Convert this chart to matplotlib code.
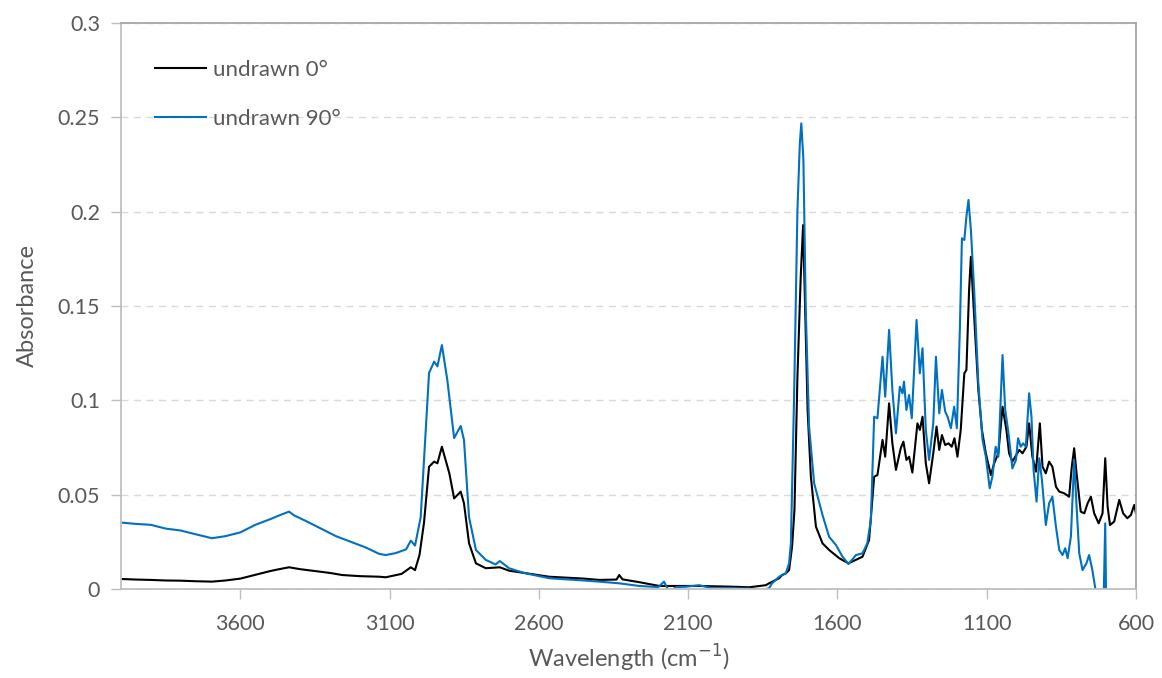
import matplotlib
matplotlib.use('Agg')
import matplotlib.pyplot as plt
import numpy as np

# wavenumber (cm-1) and absorbance
wn_0 = [4000, 3950, 3900, 3850, 3800, 3750, 3695, 3650, 3600, 3550, 3500, 3470, 3437, 3400,
        3350, 3300, 3259, 3200, 3135, 3113, 3060, 3029, 3015, 3000, 2985, 2968, 2951, 2940,
        2925, 2900, 2884, 2862, 2851, 2834, 2811, 2778, 2731, 2700, 2650, 2566, 2450, 2398,
        2340, 2331, 2320, 2260, 2197, 2100, 2063, 1950, 1896, 1840, 1829, 1795, 1785, 1773,
        1762, 1752, 1744, 1734, 1723, 1715, 1708, 1700, 1689, 1672, 1650, 1628, 1594, 1563,
        1527, 1516, 1494, 1477, 1466, 1449, 1440, 1427, 1416, 1404, 1388, 1379, 1369, 1360,
        1349, 1332, 1324, 1315, 1304, 1293, 1279, 1268, 1259, 1250, 1239, 1228, 1217, 1208,
        1198, 1187, 1175, 1168, 1159, 1153, 1142, 1128, 1116, 1103, 1086, 1075, 1061, 1047,
        1034, 1025, 1014, 991, 980, 967, 958, 947, 935, 922, 913, 902, 891, 880, 868, 857,
        840, 824, 815, 807, 799, 785, 773, 762, 751, 740, 725, 712, 703, 695, 687, 673, 656,
        643, 629, 617, 606, 600]
abs_0 = [0.0053, 0.0050, 0.0048, 0.0045, 0.0044, 0.0041, 0.0039, 0.0045, 0.0055, 0.0075,
         0.0095, 0.0105, 0.0115, 0.0105, 0.0095, 0.0085, 0.0074, 0.0068, 0.0065, 0.0062,
         0.0080, 0.0115, 0.0100, 0.0180, 0.0350, 0.0648, 0.0675, 0.0666, 0.0754, 0.0613,
         0.0480, 0.0516, 0.0454, 0.0242, 0.0136, 0.0110, 0.0115, 0.0097, 0.0085, 0.0065,
         0.0055, 0.0048, 0.0050, 0.0074, 0.0051, 0.0035, 0.0016, 0.0016, 0.0016, 0.0012,
         0.0009, 0.0020, 0.0030, 0.0057, 0.0074, 0.0083, 0.0100, 0.0224, 0.0419, 0.1125,
         0.1655, 0.1929, 0.1479, 0.0949, 0.0595, 0.0330, 0.0242, 0.0207, 0.0163, 0.0136,
         0.0163, 0.0171, 0.0260, 0.0595, 0.0604, 0.0790, 0.0701, 0.0984, 0.0772, 0.0631,
         0.0746, 0.0781, 0.0684, 0.0701, 0.0617, 0.0878, 0.0843, 0.0913, 0.0666, 0.0560,
         0.0719, 0.0861, 0.0737, 0.0816, 0.0763, 0.0772, 0.0754, 0.0799, 0.0701, 0.0843,
         0.1143, 0.1161, 0.1585, 0.1761, 0.1443, 0.1055, 0.0843, 0.0719, 0.0604, 0.0666,
         0.0719, 0.0966, 0.0843, 0.0719, 0.0675, 0.0737, 0.0719, 0.0754, 0.0878, 0.0701,
         0.0622, 0.0878, 0.0648, 0.0613, 0.0675, 0.0648, 0.0542, 0.0516, 0.0507, 0.0489,
         0.0648, 0.0746, 0.0613, 0.0410, 0.0401, 0.0454, 0.0489, 0.0401, 0.0348, 0.0401,
         0.0693, 0.0437, 0.0339, 0.0357, 0.0472, 0.0401, 0.0375, 0.0392, 0.0445, 0.0401]

wn_90 = [4000, 3950, 3900, 3850, 3800, 3750, 3695, 3650, 3600, 3550, 3500, 3470, 3437, 3420,
         3380, 3330, 3280, 3230, 3180, 3135, 3113, 3080, 3045, 3029, 3015, 2996, 2968, 2951,
         2940, 2925, 2907, 2884, 2862, 2851, 2834, 2811, 2778, 2745, 2731, 2700, 2650, 2566,
         2450, 2398, 2331, 2264, 2200, 2181, 2164, 2140, 2108, 2063, 2020, 1953, 1900, 1852,
         1829, 1819, 1795, 1785, 1773, 1762, 1756, 1745, 1734, 1726, 1721, 1714, 1706, 1695,
         1678, 1650, 1628, 1605, 1583, 1563, 1538, 1516, 1500, 1488, 1477, 1466, 1449, 1440,
         1427, 1416, 1404, 1391, 1382, 1377, 1369, 1360, 1351, 1335, 1324, 1315, 1304, 1293,
         1279, 1270, 1259, 1250, 1239, 1231, 1220, 1209, 1200, 1190, 1183, 1175, 1168, 1161,
         1153, 1142, 1128, 1114, 1103, 1090, 1081, 1070, 1061, 1047, 1038, 1027, 1014, 1002,
         995, 986, 978, 969, 958, 950, 943, 933, 924, 915, 902, 891, 880, 868, 857, 846, 837,
         829, 818, 807, 799, 790, 779, 766, 757, 746, 734, 720, 708, 703, 700, 690, 600]
abs_90 = [0.0352, 0.0345, 0.0340, 0.0320, 0.0310, 0.0290, 0.0269, 0.0280, 0.0300, 0.0340,
          0.0370, 0.0390, 0.0410, 0.0390, 0.0360, 0.0320, 0.0280, 0.0250, 0.0220, 0.0186,
          0.0180, 0.0190, 0.0210, 0.0256, 0.0230, 0.0380, 0.1145, 0.1205, 0.1180, 0.1293,
          0.1110, 0.0800, 0.0864, 0.0790, 0.0380, 0.0207, 0.0154, 0.0130, 0.0148, 0.0110,
          0.0085, 0.0057, 0.0045, 0.0039, 0.0030, 0.0016, 0.0010, 0.0039, -0.0014, 0.0010,
          0.0012, 0.0020, 0.0004, 0.0004, 0.0002, -0.0005, 0.0004, 0.0030, 0.0065, 0.0074,
          0.0083, 0.0136, 0.0240, 0.1037, 0.2009, 0.2362, 0.2468, 0.2274, 0.1479, 0.0860,
          0.0560, 0.0392, 0.0277, 0.0233, 0.0171, 0.0132, 0.0180, 0.0189, 0.0242, 0.0366,
          0.0913, 0.0905, 0.1231, 0.1019, 0.1373, 0.1055, 0.0825, 0.1072, 0.1037, 0.1099,
          0.0949, 0.1028, 0.0905, 0.1426, 0.1143, 0.1276, 0.0843, 0.0684, 0.0878, 0.1231,
          0.0931, 0.1055, 0.0940, 0.0913, 0.0852, 0.0966, 0.0852, 0.1373, 0.1859, 0.1850,
          0.1973, 0.2062, 0.1903, 0.1585, 0.1090, 0.0790, 0.0701, 0.0534, 0.0595, 0.0754,
          0.0701, 0.1240, 0.0949, 0.0825, 0.0639, 0.0684, 0.0799, 0.0754, 0.0772, 0.0754,
          0.1037, 0.0913, 0.0631, 0.0463, 0.0693, 0.0578, 0.0339, 0.0454, 0.0489, 0.0330,
          0.0207, 0.0180, 0.0216, 0.0163, 0.0277, 0.0684, 0.0437, 0.0189, 0.0100, 0.0136,
          0.0180, 0.0100, -0.0020, -0.0100, -0.0030, 0.0348, -0.0050, -0.0200, -0.0300]

x_ticks = [3600, 3100, 2600, 2100, 1600, 1100, 600]
y_ticks = [0, 0.05, 0.1, 0.15, 0.2, 0.25, 0.3]
y_labels = ['0', '0.05', '0.1', '0.15', '0.2', '0.25', '0.3']

plt.rcParams['font.family'] = ['Lato', 'DejaVu Sans']
grey = '#595959'

fig = plt.figure(figsize=(11.62, 6.78), dpi=100)
ax = fig.add_axes([0.1041, 0.1313, 0.8735, 0.8348])

ax.plot(wn_0, abs_0, color='black', lw=1.5, label='undrawn 0°')
ax.plot(wn_90, abs_90, color='#0070C0', lw=1.5, label='undrawn 90°')

ax.set_xlim(4000, 600)
ax.set_ylim(0, 0.3)
ax.set_xticks(x_ticks)
ax.set_yticks(y_ticks)
ax.set_yticklabels(y_labels)
ax.tick_params(colors='#bfbfbf', labelcolor=grey, labelsize=15.5, length=7, width=1)
ax.tick_params(axis='y', pad=8)
ax.tick_params(axis='x', pad=11)
ax.grid(axis='y', color='#d9d9d9', linestyle=(0, (5, 4)), lw=1)
ax.set_axisbelow(True)
for s in ['left', 'bottom']:
    ax.spines[s].set_color('#bfbfbf')
for s in ['top', 'right']:
    ax.spines[s].set_color('#a6a6a6')
for s in ax.spines.values():
    s.set_linewidth(1.3)

ax.set_xlabel('Wavelength (cm$^{-1}$)', color=grey, fontsize=17, labelpad=6)
ax.set_ylabel('Absorbance', color=grey, fontsize=17, labelpad=14)

ax.legend(loc='upper left', bbox_to_anchor=(0.0335, 0.935), frameon=False, fontsize=16,
          handlelength=2.3, handletextpad=0.3, labelspacing=1.3, borderpad=0,
          borderaxespad=0, labelcolor=grey)

fig.savefig('out.png', dpi=100)
